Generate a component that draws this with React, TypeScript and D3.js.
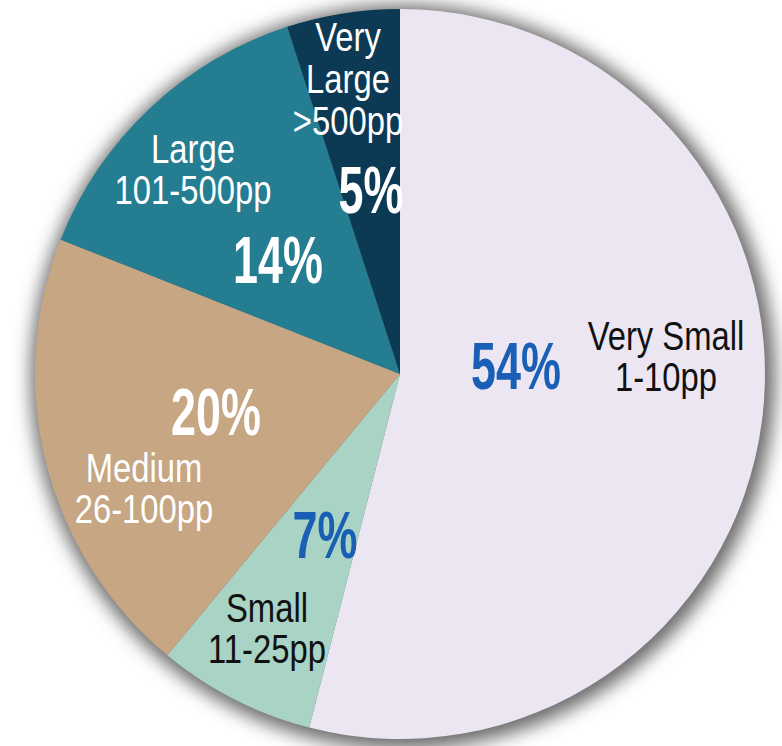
import React from "react";
import * as d3 from "d3";

// Practice size segments, clockwise from 12 o'clock
const categories = ["Very Small", "Small", "Medium", "Large", "Very Large"];
const ranges = ["1-10pp", "11-25pp", "26-100pp", "101-500pp", ">500pp"];
const shares = [54, 7, 20, 14, 5];
const sliceColors = ["#ebe6f2", "#a9d3c5", "#c6a683", "#257d91", "#0c3a54"];

const W = 782;
const H = 746;
const cx = 400;
const cy = 374;
const R = 365;

// label layout: centre x and first baseline of the name block, then the percent
const nameLayout = [
  { x: 666, y: 350, color: "#111" },
  { x: 267, y: 622, color: "#111" },
  { x: 144, y: 482, color: "#fff" },
  { x: 193, y: 163, color: "#fff" },
  { x: 348, y: 51, color: "#fff" },
];
const pctLayout = [
  { x: 516, y: 389, color: "#1a5fb6" },
  { x: 325, y: 558, color: "#1a5fb6" },
  { x: 216, y: 435, color: "#fff" },
  { x: 278, y: 283, color: "#fff" },
  { x: 371, y: 213, color: "#fff" },
];

const FONT = "'Liberation Sans', Arial, Helvetica, sans-serif";
const NAME_SIZE = 40;
const NAME_SX = 0.82;
const PCT_SIZE = 67;
const PCT_SX = 0.67;

export default function App() {
  const pie = d3.pie<number>().sort(null).value((d) => d);
  const arcs = pie(shares);
  const arc = d3.arc<d3.PieArcDatum<number>>().innerRadius(0).outerRadius(R);

  return (
    <svg width={W} height={H} style={{ display: "block", position: "absolute", left: 0, top: 0 }}>
      <defs>
        <filter id="halo" x="-20%" y="-20%" width="140%" height="140%">
          <feGaussianBlur stdDeviation="9" />
        </filter>
      </defs>
      <rect width={W} height={H} fill="#fff" />
      <circle cx={cx + 3} cy={cy + 3} r={R + 7} fill="#6a6a6a" filter="url(#halo)" />
      <g transform={`translate(${cx},${cy})`}>
        {arcs.map((a, i) => (
          <path key={categories[i]} d={arc(a) || ""} fill={sliceColors[i]} />
        ))}
      </g>
      {categories.map((c, i) => {
        const lines = i === 4 ? ["Very", "Large", ranges[i]] : [c, ranges[i]];
        const lh = i === 4 ? 42 : 41;
        const L = nameLayout[i];
        return (
          <g key={"n" + c} transform={`translate(${L.x},${L.y}) scale(${NAME_SX},1)`}>
            <text
              textAnchor="middle"
              fill={L.color}
              style={{ fontFamily: FONT, fontSize: NAME_SIZE }}
            >
              {lines.map((t, j) => (
                <tspan key={j} x={0} y={j * lh}>
                  {t}
                </tspan>
              ))}
            </text>
          </g>
        );
      })}
      {shares.map((v, i) => {
        const P = pctLayout[i];
        return (
          <g key={"p" + i} transform={`translate(${P.x},${P.y}) scale(${PCT_SX},1)`}>
            <text
              textAnchor="middle"
              fill={P.color}
              style={{ fontFamily: FONT, fontSize: PCT_SIZE, fontWeight: 700 }}
            >
              {v}%
            </text>
          </g>
        );
      })}
    </svg>
  );
}
